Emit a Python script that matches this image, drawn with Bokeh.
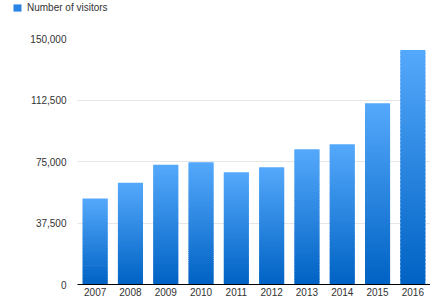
import numpy as np
from bokeh.plotting import figure
from bokeh.layouts import column, row
from bokeh.models import (ColumnDataSource, NumeralTickFormatter, Legend,
                          LegendItem, Range1d, FixedTicker)
from bokeh.embed import file_html
from bokeh.resources import INLINE

# ---- data ----
years = ["2007", "2008", "2009", "2010", "2011", "2012", "2013", "2014", "2015", "2016"]
visitors = [52500, 62000, 73000, 74500, 68500, 71500, 82500, 85500, 110500, 143000]
y_ticks = [0, 37500, 75000, 112500, 150000]
y_max = 150000
series_name = "Number of visitors"

# ---- gradient slices (derived from data) ----
N = 60
top_rgb = np.array([0x55, 0xA9, 0xFB], dtype=float)
bot_rgb = np.array([0x00, 0x62, 0xC4], dtype=float)
xs, bottoms, tops, colors = [], [], [], []
for yr, v in zip(years, visitors):
    for i in range(N):
        f0 = i / N
        f1 = min((i + 1.5) / N, 1.0)
        fc = (i + 0.5) / N
        rgb = bot_rgb + (top_rgb - bot_rgb) * fc
        xs.append(yr)
        bottoms.append(v * f0)
        tops.append(v * f1)
        colors.append("#%02x%02x%02x" % tuple(int(round(c)) for c in rgb))

src = ColumnDataSource(dict(x=xs, bottom=bottoms, top=tops, color=colors))

FONT = "Liberation Sans"

# ---- legend strip (separate small figure on top) ----
lg = figure(width=430, height=14, x_range=(0, 1), y_range=(0, 1),
            output_backend="svg", toolbar_location=None,
            min_border_left=0, min_border_right=0, min_border_top=0,
            min_border_bottom=0)
lg.axis.visible = False
lg.grid.visible = False
lg.outline_line_color = None
# swatch renderer: a single bar kept below the visible range of the strip
dummy = lg.vbar(x=[0.5], bottom=[-3], top=[-2], width=0.5,
                fill_color="#2a82e4", line_color=None)
legend = Legend(items=[LegendItem(label=series_name, renderers=[dummy])],
                location=(12, 1), orientation="horizontal",
                padding=0, margin=0, border_line_color=None,
                background_fill_alpha=0, glyph_width=10, glyph_height=9,
                label_standoff=5, label_height=12,
                label_text_font=FONT, label_text_font_size="10px",
                label_text_color="#333333")
lg.add_layout(legend, "center")

# ---- main chart ----
p = figure(x_range=years, y_range=Range1d(0, y_max), width=430, height=286,
           output_backend="svg", toolbar_location=None,
           min_border_left=77, min_border_right=0, min_border_top=24,
           min_border_bottom=16)
p.outline_line_color = None
p.background_fill_color = "white"

p.vbar(x="x", bottom="bottom", top="top", width=0.71, fill_color="color",
       line_color=None, source=src)

# axes
p.yaxis.ticker = FixedTicker(ticks=y_ticks)
p.yaxis.formatter = NumeralTickFormatter(format="0,0")
p.yaxis.axis_line_color = None
p.yaxis.major_tick_line_color = None
p.yaxis.minor_tick_line_color = None
p.yaxis.major_tick_in = 0
p.yaxis.major_tick_out = 0
p.yaxis.minor_tick_in = 0
p.yaxis.minor_tick_out = 0
p.yaxis.axis_label_standoff = 0
p.yaxis.major_label_standoff = 11
p.yaxis.major_label_text_font = FONT
p.yaxis.major_label_text_font_size = "10px"
p.yaxis.major_label_text_color = "#333333"

p.xaxis.axis_line_color = "black"
p.xaxis.axis_line_width = 1
p.xaxis.major_tick_line_color = None
p.xaxis.minor_tick_line_color = None
p.xaxis.major_tick_in = 0
p.xaxis.major_tick_out = 0
p.xaxis.minor_tick_in = 0
p.xaxis.minor_tick_out = 0
p.xaxis.axis_label_standoff = 0
p.xaxis.major_label_standoff = 3
p.xaxis.major_label_text_font = FONT
p.xaxis.major_label_text_font_size = "10px"
p.xaxis.major_label_text_color = "#333333"

p.xgrid.grid_line_color = None
p.ygrid.grid_line_color = "#e6e6e6"
p.ygrid.grid_line_width = 1

layout = column(row(lg, spacing=0), p, spacing=0)
open("out.html", "w").write(file_html(layout, INLINE))
